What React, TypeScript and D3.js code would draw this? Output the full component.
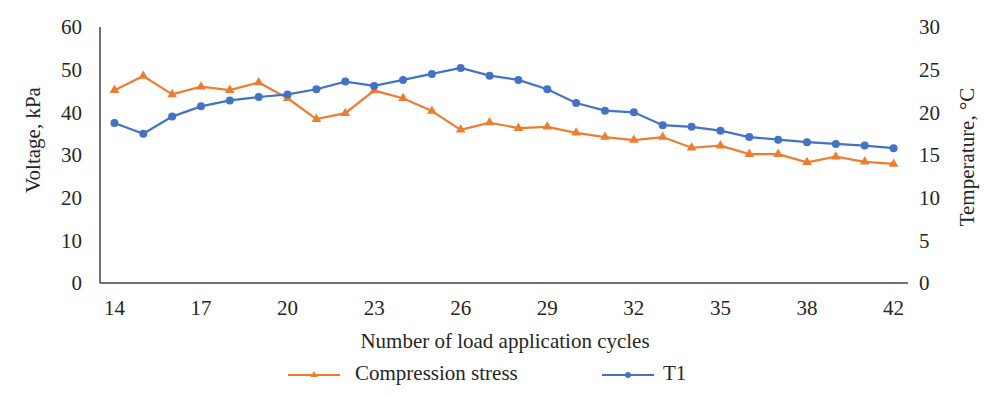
import React, { useEffect, useRef } from "react";
import * as d3 from "d3";

// cycle numbers shown on the x axis (28 points)
const cycles = [
  14, 15, 16, 17, 18, 19, 20, 21, 22, 23, 24, 25, 26, 27, 28, 29, 30, 31, 32,
  33, 34, 35, 36, 37, 38, 39, 40, 42,
];
const tickCycles = [14, 17, 20, 23, 26, 29, 32, 35, 38, 42];

// left axis, kPa
const compression = [
  45.2, 48.5, 44.2, 46.0, 45.2, 47.0, 43.3, 38.4, 39.8, 45.1, 43.3, 40.3, 35.9,
  37.6, 36.3, 36.6, 35.2, 34.2, 33.5, 34.2, 31.7, 32.2, 30.2, 30.2, 28.3, 29.6,
  28.4, 27.9,
];
// right axis, °C
const t1 = [
  18.75, 17.5, 19.5, 20.7, 21.4, 21.8, 22.1, 22.7, 23.6, 23.1, 23.8, 24.5, 25.2,
  24.3, 23.8, 22.7, 21.1, 20.2, 20.0, 18.5, 18.3, 17.85, 17.1, 16.8, 16.5,
  16.3, 16.1, 15.8,
];

const leftTicks = [0, 10, 20, 30, 40, 50, 60];
const rightTicks = [0, 5, 10, 15, 20, 25, 30];

const ORANGE = "#ED7D31";
const BLUE = "#4472C4";
const FONT = "Liberation Serif, DejaVu Serif, serif";
const FS = 21;

export default function App() {
  const ref = useRef<SVGSVGElement>(null);

  useEffect(() => {
    if (!ref.current) return;
    const svg = d3.select(ref.current);
    svg.selectAll("*").remove();

    const left = 100;
    const right = 908;
    const top = 27;
    const bottom = 283;

    const x = d3
      .scaleBand<number>()
      .domain(d3.range(cycles.length))
      .range([left, right])
      .padding(0);
    const cx = (i: number) => (x(i) as number) + x.bandwidth() / 2;
    const yL = d3.scaleLinear().domain([0, 60]).range([bottom, top]);
    const yR = d3.scaleLinear().domain([0, 30]).range([bottom, top]);

    const g = svg.append("g");

    const label = (sel: any) =>
      sel
        .attr("font-family", FONT)
        .attr("font-size", FS)
        .attr("fill", "#262626")
        .attr("dy", "0.35em");

    // axis lines
    g.append("line")
      .attr("x1", left)
      .attr("x2", left)
      .attr("y1", top)
      .attr("y2", bottom)
      .attr("stroke", "#404040")
      .attr("stroke-width", 1.5);
    g.append("line")
      .attr("x1", left)
      .attr("x2", right)
      .attr("y1", bottom)
      .attr("y2", bottom)
      .attr("stroke", "#404040")
      .attr("stroke-width", 1.5);

    g.selectAll(".yl")
      .data(leftTicks)
      .join("text")
      .attr("class", "yl")
      .attr("x", left - 18)
      .attr("y", (d) => yL(d))
      .attr("text-anchor", "end")
      .call(label)
      .text((d) => d);

    g.selectAll(".yr")
      .data(rightTicks)
      .join("text")
      .attr("class", "yr")
      .attr("x", 919)
      .attr("y", (d) => yR(d))
      .attr("text-anchor", "start")
      .call(label)
      .text((d) => d);

    g.selectAll(".xt")
      .data(tickCycles)
      .join("text")
      .attr("class", "xt")
      .attr("x", (d) => cx(cycles.indexOf(d)))
      .attr("y", 308)
      .attr("text-anchor", "middle")
      .call(label)
      .text((d) => d);

    g.append("text")
      .attr("x", 505)
      .attr("y", 341)
      .attr("text-anchor", "middle")
      .call(label)
      .text("Number of load application cycles");

    g.append("text")
      .attr("transform", `translate(33,140) rotate(-90)`)
      .attr("text-anchor", "middle")
      .call(label)
      .text("Voltage, kPa");

    g.append("text")
      .attr("transform", `translate(967,157) rotate(-90)`)
      .attr("text-anchor", "middle")
      .call(label)
      .text("Temperature, °C");

    const lineL = d3
      .line<number>()
      .x((_, i) => cx(i))
      .y((d) => yL(d));
    const lineR = d3
      .line<number>()
      .x((_, i) => cx(i))
      .y((d) => yR(d));

    g.append("path")
      .attr("d", lineL(compression) || "")
      .attr("fill", "none")
      .attr("stroke", ORANGE)
      .attr("stroke-width", 2.2);
    const tri = d3.symbol().type(d3.symbolTriangle).size(40);
    g.selectAll(".tri")
      .data(compression)
      .join("path")
      .attr("class", "tri")
      .attr("d", tri() || "")
      .attr("transform", (d, i) => `translate(${cx(i)},${yL(d)})`)
      .attr("fill", ORANGE);

    g.append("path")
      .attr("d", lineR(t1) || "")
      .attr("fill", "none")
      .attr("stroke", BLUE)
      .attr("stroke-width", 2.2);
    g.selectAll(".dot")
      .data(t1)
      .join("circle")
      .attr("class", "dot")
      .attr("cx", (_, i) => cx(i))
      .attr("cy", (d) => yR(d))
      .attr("r", 4)
      .attr("fill", BLUE);

    // legend
    const legend = [
      { name: "Compression stress", color: ORANGE, x: 288, kind: "tri" },
      { name: "T1", color: BLUE, x: 602, kind: "dot" },
    ];
    const ly = 375;
    legend.forEach((l) => {
      g.append("line")
        .attr("x1", l.x)
        .attr("x2", l.x + 52)
        .attr("y1", ly)
        .attr("y2", ly)
        .attr("stroke", l.color)
        .attr("stroke-width", 2);
      if (l.kind === "tri") {
        g.append("path")
          .attr("d", d3.symbol().type(d3.symbolTriangle).size(22)() || "")
          .attr("transform", `translate(${l.x + 26},${ly})`)
          .attr("fill", l.color);
      } else {
        g.append("circle")
          .attr("cx", l.x + 26)
          .attr("cy", ly)
          .attr("r", 3)
          .attr("fill", l.color);
      }
      g.append("text")
        .attr("x", l.x + (l.kind === "tri" ? 67 : 61))
        .attr("y", ly - 2)
        .call(label)
        .text(l.name);
    });
  }, []);

  return (
    <svg
      ref={ref}
      width={1000}
      height={397}
      style={{ position: "absolute", left: 0, top: 0, background: "#fff" }}
    />
  );
}
